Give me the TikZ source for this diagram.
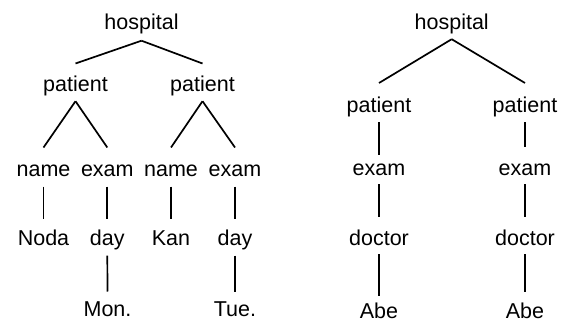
\documentclass[tikz,border=0pt]{standalone}
\usepackage{fontspec}
\setmainfont{Liberation Sans}
\begin{document}
\begin{tikzpicture}[x=1pt,y=-1pt,
  lbl/.style={anchor=base,inner sep=0pt,text depth=9pt,font=\fontsize{21.5}{25}\selectfont},
  edge/.style={line width=1.7pt,line cap=butt}]
\useasboundingbox (0,0) rectangle (565,321);
% left tree
\node[lbl] (h1) at (141.5,30) {hospital};
\node[lbl] (p1) at (75.5,92) {patient};
\node[lbl] (p2) at (202.5,92) {patient};
\node[lbl] (n1) at (43.5,176) {name};
\node[lbl] (e1) at (107.3,176) {exam};
\node[lbl] (n2) at (171,176) {name};
\node[lbl] (e2) at (235,176) {exam};
\node[lbl] (noda) at (43.5,245) {Noda};
\node[lbl] (d1) at (107.3,245) {day};
\node[lbl] (kan) at (171,245) {Kan};
\node[lbl] (d2) at (235,245) {day};
\node[lbl] (mon) at (107.5,316.5) {Mon.};
\node[lbl] (tue) at (235,316.5) {Tue.};
\draw[edge] ([yshift=-1.5pt]h1.south) -- ([yshift=28.5pt]p1.base);
\draw[edge] ([yshift=-1.5pt]h1.south) -- ([yshift=28.5pt]p2.base);
\draw[edge] (p1.south) -- ([yshift=28.5pt]n1.base);
\draw[edge] (p1.south) -- ([yshift=28.5pt]e1.base);
\draw[edge] (p2.south) -- ([yshift=28.5pt]n2.base);
\draw[edge] (p2.south) -- ([yshift=28.5pt]e2.base);
\draw[edge] ([yshift=-1.5pt]n1.south) -- ([yshift=26.5pt]noda.base);
\draw[edge] ([yshift=-1.5pt]e1.south) -- ([yshift=26.5pt]d1.base);
\draw[edge] ([yshift=-1.5pt]n2.south) -- ([yshift=26.5pt]kan.base);
\draw[edge] ([yshift=-1.5pt]e2.south) -- ([yshift=26.5pt]d2.base);
\draw[edge] ([yshift=-1.5pt]d1.south) -- ([yshift=25pt]mon.base);
\draw[edge] ([yshift=-1.5pt]d2.south) -- ([yshift=25pt]tue.base);
% right tree
\node[lbl] (h2) at (451.7,30) {hospital};
\node[lbl] (rp1) at (379,113) {patient};
\node[lbl] (rp2) at (525,113) {patient};
\node[lbl] (re1) at (379,175) {exam};
\node[lbl] (re2) at (525,175) {exam};
\node[lbl] (doc1) at (379,245) {doctor};
\node[lbl] (doc2) at (525,245) {doctor};
\node[lbl] (abe1) at (379,318) {Abe};
\node[lbl] (abe2) at (525,318) {Abe};
\draw[edge] (h2.south) -- ([yshift=30pt]rp1.base);
\draw[edge] (h2.south) -- ([yshift=30pt]rp2.base);
\draw[edge] (rp1.south) -- ([yshift=20pt]re1.base);
\draw[edge] (rp2.south) -- ([yshift=28pt]re2.base);
\draw[edge] (re1.south) -- ([yshift=28pt]doc1.base);
\draw[edge] (re2.south) -- ([yshift=28pt]doc2.base);
\draw[edge] (doc1.south) -- ([yshift=22pt]abe1.base);
\draw[edge] (doc2.south) -- ([yshift=26pt]abe2.base);
\end{tikzpicture}
\end{document}
